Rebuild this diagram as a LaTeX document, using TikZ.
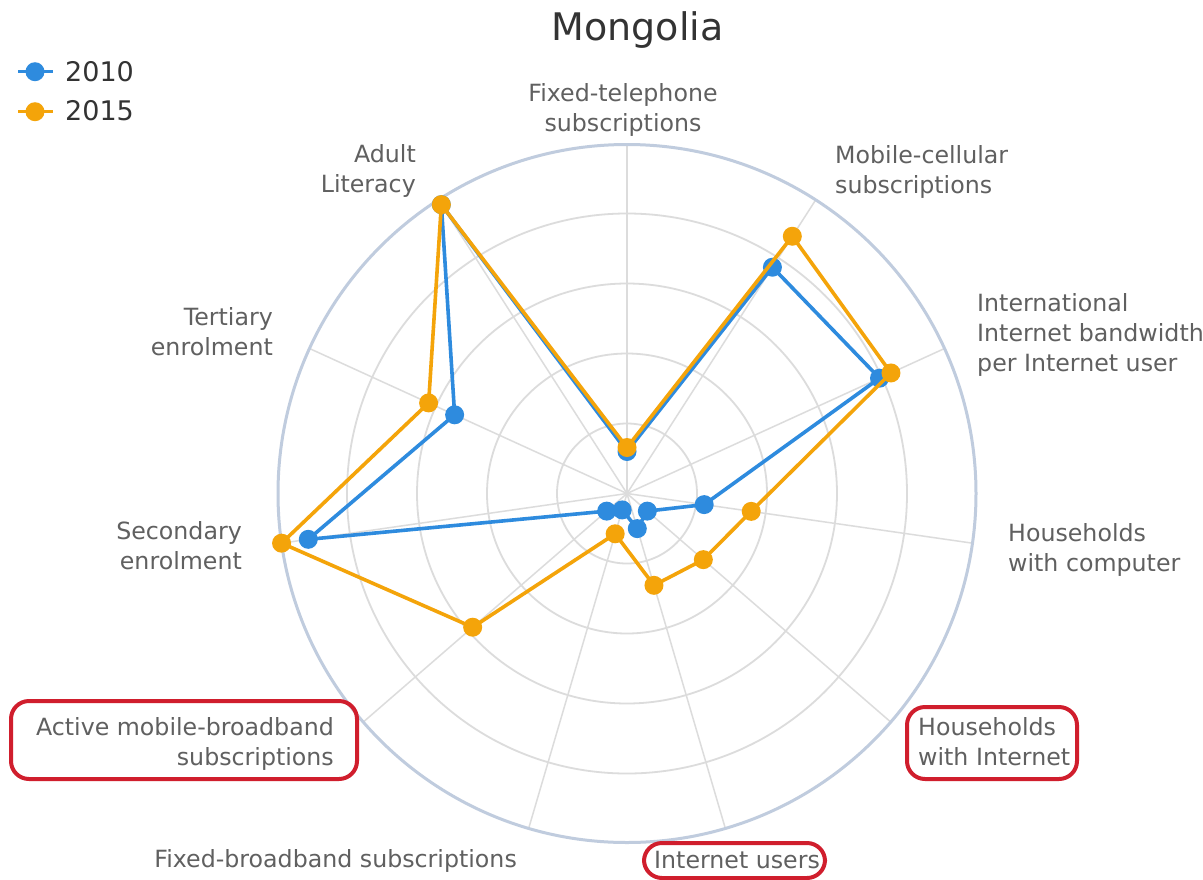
\documentclass[tikz,border=0pt]{standalone}
\usepackage{fontspec}
\setmainfont{DejaVu Sans}
\usetikzlibrary{calc}
\definecolor{s10}{RGB}{46,139,222}
\definecolor{s15}{RGB}{244,164,10}
\definecolor{gridc}{RGB}{220,220,220}
\definecolor{outerc}{RGB}{192,204,222}
\definecolor{lblc}{RGB}{96,96,96}
\definecolor{titlec}{RGB}{51,51,51}
\definecolor{redc}{RGB}{208,30,45}
\begin{document}
\begin{tikzpicture}[x=1pt,y=-1pt,
 spoke/.style={draw=gridc,line width=1.5pt},
 ring/.style={draw=gridc,line width=1.8pt},
 outerring/.style={draw=outerc,line width=3pt},
 series10/.style={draw=s10,line width=3.6pt,line join=round},
 series15/.style={draw=s15,line width=3.6pt,line join=round},
 mark10/.style={circle,fill=s10,inner sep=0pt,minimum size=19pt},
 mark15/.style={circle,fill=s15,inner sep=0pt,minimum size=19pt},
 lbl/.style={font=\fontsize{23.7}{30}\selectfont,text=lblc,inner sep=0pt},
 legtxt/.style={font=\fontsize{27}{32}\selectfont,text=titlec,inner sep=0pt,anchor=base west},
 hilite/.style={draw=redc,line width=4pt,rounded corners=18pt}]
\useasboundingbox (0,0) rectangle (1203,879);
\fill[white] (0,0) rectangle (1203,879);
\coordinate (C) at (627,493.5);
% grid
\foreach \k in {0,...,10} \coordinate (ax\k) at ($(C)+(\k*32.7273-90:349)$);
\foreach \k in {0,...,10} \draw[spoke] (C) -- (ax\k);
\foreach \r in {70,140,210,280} \draw[ring] (C) circle[radius=\r pt];
\draw[outerring] (C) circle[radius=349pt];
% data 2010
\foreach \r [count=\i from 0] in {42,269,277.6,78,26.9,36.6,17.1,26.9,322,189.5,343.4}
  \coordinate (b\i) at ($(C)+(\i*32.7273-90:\r)$);
\draw[series10] (b0)--(b1)--(b2)--(b3)--(b4)--(b5)--(b6)--(b7)--(b8)--(b9)--(b10)--cycle;
\foreach \i in {0,...,10} \node[mark10] (mb\i) at (b\i) {};
% data 2015
\foreach \r [count=\i from 0] in {46,305.8,290.2,125.5,101,95.7,42,204.2,349,218.1,343.4}
  \coordinate (o\i) at ($(C)+(\i*32.7273-90:\r)$);
\draw[series15] (o0)--(o1)--(o2)--(o3)--(o4)--(o5)--(o6)--(o7)--(o8)--(o9)--(o10)--cycle;
\foreach \i in {0,...,10} \node[mark15] (mo\i) at (o\i) {};
% title
\node[font=\fontsize{38}{46}\selectfont,text=titlec,inner sep=0pt,anchor=base] (title) at (637.5,40) {Mongolia};
% legend
\coordinate (l10a) at (18,71.7); \coordinate (l10b) at (53,71.7);
\draw[s10,line width=3pt] (l10a) -- (l10b);
\node[mark10] (leg10) at (35,71.7) {};
\node[legtxt] (leg10t) at (65,81.7) {2010};
\coordinate (l15a) at (18,111.7); \coordinate (l15b) at (53,111.7);
\draw[s15,line width=3pt] (l15a) -- (l15b);
\node[mark15] (leg15) at (35,111.7) {};
\node[legtxt] (leg15t) at (65,120.7) {2015};
% axis labels (base anchor = baseline of last line)
\node[lbl,align=center,anchor=base] (lab0) at (623,131.7) {Fixed-telephone\\subscriptions};
\node[lbl,align=left,anchor=base west] (lab1) at (835,193.3) {Mobile-cellular\\subscriptions};
\node[lbl,align=left,anchor=base west] (lab2) at (977,371.7) {International\\Internet bandwidth\\per Internet user};
\node[lbl,align=left,anchor=base west] (lab3) at (1008,571.7) {Households\\with computer};
\node[lbl,align=left,anchor=base west] (lab4) at (918,765) {Households\\with Internet};
\node[lbl,anchor=base west] (lab5) at (654,868) {Internet users};
\node[lbl,anchor=base east] (lab6) at (517,867) {Fixed-broadband subscriptions};
\node[lbl,align=right,anchor=base east] (lab7) at (334,765) {Active mobile-broadband\\subscriptions};
\node[lbl,align=right,anchor=base east] (lab8) at (242,569.5) {Secondary\\enrolment};
\node[lbl,align=right,anchor=base east] (lab9) at (273,355.5) {Tertiary\\enrolment};
\node[lbl,align=right,anchor=base east] (lab10) at (416,192.7) {Adult\\Literacy};
% highlight boxes
\draw[hilite] (11,701) rectangle (357,779);
\draw[hilite] (907,707) rectangle (1077,779);
\draw[hilite] (644,843) rectangle (825,878);
\end{tikzpicture}
\end{document}
